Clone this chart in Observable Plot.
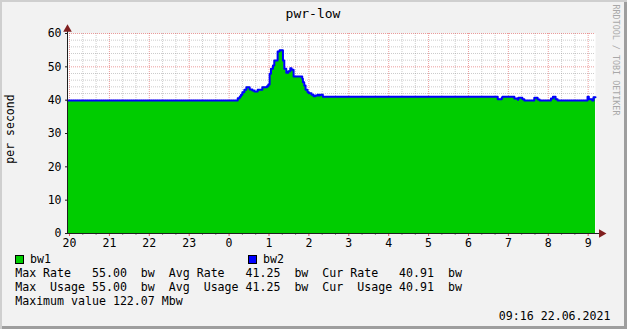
<!DOCTYPE html>
<html><head><meta charset="utf-8">
<script src="https://cdn.jsdelivr.net/npm/d3@7"></script>
<script src="https://cdn.jsdelivr.net/npm/@observablehq/plot@0.6"></script>
<style>
html,body{margin:0;padding:0;background:#f2f2f2;}
#chart{position:relative;width:627px;height:329px;overflow:hidden;background:#f2f2f2;font-family:"DejaVu Sans Mono",monospace;color:#000;}
#chart .edge{position:absolute;left:0;top:0;width:627px;height:329px;box-sizing:border-box;box-shadow:inset 2px 2px 0 #cfcfcf, inset -3px -3px 0 #9e9e9e;pointer-events:none;z-index:5}
#chart svg{position:absolute;left:0;top:0;}
.t{position:absolute;white-space:pre;font-size:11.6px;line-height:14px;}
.sw{position:absolute;width:7px;height:7px;border:1px solid #000;}
</style></head><body>
<div id="chart"><div class="edge"></div></div>
<script>
// ---- data ----
const title = "pwr-low";
const yLabel = "per second";
const watermark = "RRDTOOL / TOBI OETIKER";
const times = [
  "2021-06-21T19:57","2021-06-22T00:13","2021-06-22T00:16","2021-06-22T00:18","2021-06-22T00:20",
  "2021-06-22T00:23","2021-06-22T00:26","2021-06-22T00:31","2021-06-22T00:35","2021-06-22T00:38",
  "2021-06-22T00:43","2021-06-22T00:50","2021-06-22T00:57","2021-06-22T00:59","2021-06-22T01:01",
  "2021-06-22T01:03","2021-06-22T01:06","2021-06-22T01:08","2021-06-22T01:13","2021-06-22T01:16",
  "2021-06-22T01:21","2021-06-22T01:23","2021-06-22T01:26","2021-06-22T01:29","2021-06-22T01:32",
  "2021-06-22T01:34","2021-06-22T01:37","2021-06-22T01:50","2021-06-22T01:51","2021-06-22T01:53",
  "2021-06-22T01:55","2021-06-22T01:58","2021-06-22T02:00","2021-06-22T02:04","2021-06-22T02:07",
  "2021-06-22T02:10","2021-06-22T02:13","2021-06-22T02:15","2021-06-22T02:17","2021-06-22T02:21",
  "2021-06-22T06:44","2021-06-22T06:50","2021-06-22T06:51","2021-06-22T07:09","2021-06-22T07:14",
  "2021-06-22T07:15","2021-06-22T07:21","2021-06-22T07:24","2021-06-22T07:39","2021-06-22T07:44",
  "2021-06-22T07:47","2021-06-22T08:04","2021-06-22T08:07","2021-06-22T08:11","2021-06-22T08:14",
  "2021-06-22T08:59","2021-06-22T09:01","2021-06-22T09:06","2021-06-22T09:08","2021-06-22T09:11"
];
const bw1 = [
  39.9,40.6,41.1,41.6,42.4,
  43.1,43.9,43.2,42.9,42.6,
  43.1,43.9,44.2,44.7,47.9,
  49.4,50.4,51.9,54.6,55.0,
  51.9,49.4,48.2,48.7,49.6,
  49.1,47.1,46.4,45.4,44.4,
  43.1,42.4,42.1,41.6,41.2,
  41.4,41.6,41.4,41.6,41.0,
  40.3,40.7,41.0,40.5,40.1,
  40.7,40.3,39.9,40.7,40.2,
  39.9,40.5,41.0,40.3,39.9,
  41.0,40.3,39.9,40.9,40.9
];
const bw2 = bw1.slice();
const seriesNames = ["bw1","bw2"];
const legendLines = [
  "Max Rate   55.00  bw  Avg Rate   41.25  bw  Cur Rate   40.91  bw",
  "Max  Usage 55.00  bw  Avg  Usage 41.25  bw  Cur  Usage 40.91  bw",
  "Maximum value 122.07 Mbw"
];
const stamp = "09:16 22.06.2021";
const yMajor = [0,10,20,30,40,50,60];

// ---- build ----
const parse = s => new Date(s + ":00Z");
const data = times.map((s,i)=>({t:parse(s), bw1:bw1[i], bw2:bw2[i]}));
const [T0, T1] = d3.extent(data, d=>d.t);
const xMajor = d3.utcHour.range(T0, T1);
const xMinor = d3.utcMinute.every(20).range(T0, T1).filter(d=>d.getUTCMinutes()!==0);
const yMinor = d3.range(2, 60, 2).filter(v=>v%10!==0);
const arrowT = d3.utcMinute.offset(T1, 9);
const topArrow = 61.3;

const svg = Plot.plot({
  width:627, height:250,
  marginTop:33, marginBottom:17, marginLeft:67, marginRight:32,
  style:{background:"transparent", fontFamily:"DejaVu Sans Mono", fontSize:"11.5px", color:"#000", overflow:"visible"},
  x:{type:"utc", domain:[T0,T1], axis:null},
  y:{domain:[0,60], axis:null},
  marks:[
    Plot.frame({fill:"#ffffff"}),
    Plot.ruleY(yMinor, {stroke:"#8f8f8f", strokeOpacity:0.45, strokeDasharray:"1,1"}),
    Plot.ruleX(xMinor, {stroke:"#8f8f8f", strokeOpacity:0.45, strokeDasharray:"1,1"}),
    Plot.ruleY(yMajor.filter(v=>v>0), {stroke:"#de4f4f", strokeOpacity:0.55, strokeDasharray:"1,1"}),
    Plot.ruleX(xMajor, {stroke:"#de4f4f", strokeOpacity:0.55, strokeDasharray:"1,1"}),
    Plot.areaY(data, {x:"t", y:"bw1", curve:"step-after", fill:"#00cc00"}),
    Plot.lineY(data, {x:"t", y:"bw2", curve:"step-after", stroke:"#0000ff", strokeWidth:2}),
    Plot.axisX(xMinor, {tickSize:2, tickFormat:()=>"", stroke:"#8f8f8f"}),
    Plot.axisX(xMajor, {tickSize:3, tickFormat:()=>"", stroke:"#de4f4f"}),
    Plot.axisX(xMajor, {tickSize:0, tickPadding:5, tickFormat:d3.utcFormat("%-H"), fill:"#000"}),
    Plot.axisY(yMajor, {tickSize:2, tickFormat:()=>"", stroke:"#1f1f1f"}),
    Plot.axisY(yMajor, {tickSize:0, tickPadding:6, fill:"#000"}),
    Plot.ruleY([{y:0, x1:T0, x2:arrowT}], {y:"y", x1:"x1", x2:"x2", stroke:"#1f1f1f"}),
    Plot.ruleX([{x:T0, y1:0, y2:topArrow}], {x:"x", y1:"y1", y2:"y2", stroke:"#1f1f1f"}),
    Plot.dot([{x:arrowT, y:0}], {x:"x", y:"y", symbol:"triangle", rotate:90, r:3.2, fill:"#801f1f"}),
    Plot.dot([{x:T0, y:topArrow}], {x:"x", y:"y", symbol:"triangle", r:3.2, fill:"#801f1f"})
  ]
});
const chart = document.getElementById("chart");
chart.appendChild(svg);

function addText(txt, x, yc, opts={}) {
  const d = document.createElement("div");
  d.className = "t";
  d.textContent = txt;
  const fs = opts.fs || 11.6, lh = opts.lh || 14;
  d.style.fontSize = fs + "px";
  d.style.lineHeight = lh + "px";
  d.style.left = x + "px";
  d.style.top = (yc - lh/2) + "px";
  if (opts.color) d.style.color = opts.color;
  if (opts.width) { d.style.width = opts.width + "px"; d.style.textAlign = opts.align || "center"; }
  if (opts.rotate) d.style.transform = `rotate(${opts.rotate}deg)`;
  chart.appendChild(d);
  return d;
}
// title
addText(title, 0, 14, {fs:13, lh:16, width:626});
// y label
addText(yLabel, 10-60, 129, {fs:11.5, width:120, rotate:-90});
// watermark
addText(watermark, 616-60, 60, {fs:8.4, lh:10, width:120, rotate:90, color:"#a8a8a8"});

// legend swatches
const swX = [15, 248], swColors = ["#00cc00","#0000ff"], nameX = [30, 263];
seriesNames.forEach((n,i)=>{
  const s = document.createElement("div");
  s.className = "sw"; s.style.left = swX[i]+"px"; s.style.top = "255px"; s.style.background = swColors[i];
  chart.appendChild(s);
  addText(n, nameX[i], 259);
});
const lineY = [273, 287, 301];
legendLines.forEach((l,i)=>addText(l, 15.2, lineY[i]));
addText(stamp, 0, 315.5, {width:610.5, align:"right"});
</script></body></html>
